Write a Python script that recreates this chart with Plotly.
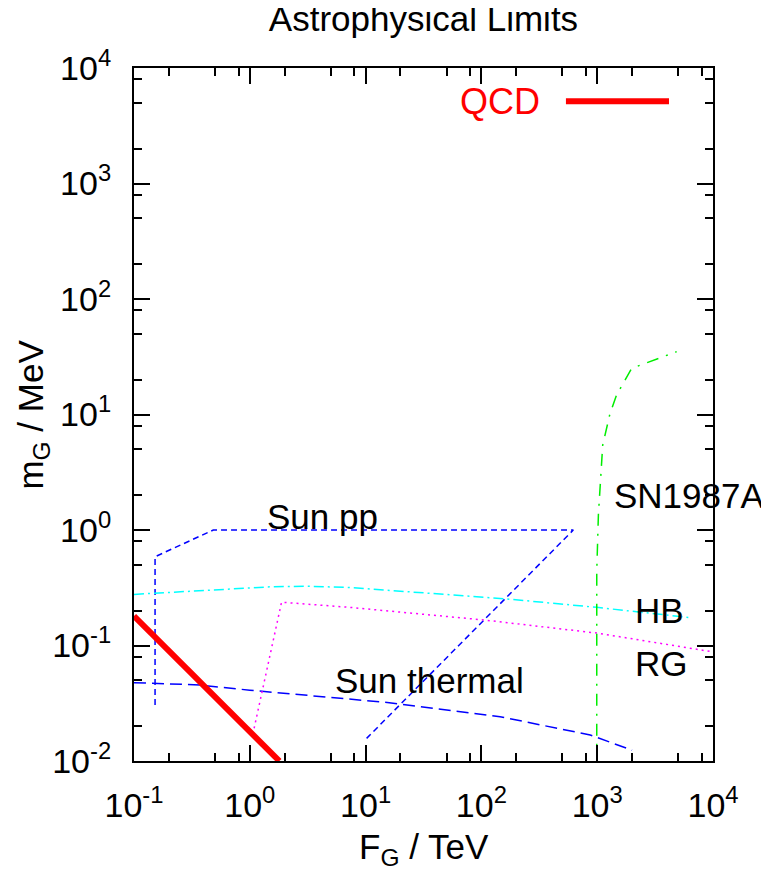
import plotly.graph_objects as go

# ---------------- data ----------------
qcd_F = [0.1, 1.8]
qcd_m = [0.18, 0.01]

sunpp_F = [0.152, 0.152, 0.484, 622, 10.2]
sunpp_m = [0.0306, 0.587, 1.0, 1.0, 0.0157]

sunth_F = [0.1, 0.37, 1.0, 16, 145, 870, 2000]
sunth_m = [0.0477, 0.0455, 0.041, 0.032, 0.0242, 0.0168, 0.0124]

hb_F = [0.1, 1.58, 3.0, 7.3, 165, 990, 6120]
hb_m = [0.277, 0.323, 0.326, 0.318, 0.253, 0.214, 0.175]

rg_F = [1.09, 1.88, 7.3, 16.3, 107, 1000, 10000]
rg_m = [0.0192, 0.237, 0.214, 0.199, 0.166, 0.128, 0.088]

sn_F = [991, 991, 1024, 1080, 1116, 1290, 1472, 1986, 4855]
sn_m = [0.005, 0.435, 1.35, 2.89, 5.44, 10.2, 14.8, 25.1, 35.0]

x_major = [0.1, 1, 10, 100, 1000, 10000]
x_major_text = ["10<sup>-1</sup>", "10<sup>0</sup>", "10<sup>1</sup>",
                "10<sup>2</sup>", "10<sup>3</sup>", "10<sup>4</sup>"]
y_major = [0.01, 0.1, 1, 10, 100, 1000, 10000]
y_major_text = ["10<sup>-2</sup>", "10<sup>-1</sup>", "10<sup>0</sup>", "10<sup>1</sup>",
                "10<sup>2</sup>", "10<sup>3</sup>", "10<sup>4</sup>"]
minor_mult = [2, 5, 8]

FONT = "Liberation Sans, Arial, sans-serif"

x_minor = [m * d for d in x_major[:-1] for m in minor_mult]
y_minor = [m * d for d in y_major[:-1] for m in minor_mult]

fig = go.Figure()

def add_line(x, y, color, dash, width=1.5, name=""):
    fig.add_trace(go.Scatter(x=x, y=y, mode="lines", name=name,
                             line=dict(color=color, dash=dash, width=width),
                             showlegend=False, hoverinfo="skip"))

add_line(sunpp_F, sunpp_m, "#0000ff", "6px,4px", name="Sun pp")
add_line(sunth_F, sunth_m, "#0000ff", "12px,6px", name="Sun thermal")
add_line(hb_F, hb_m, "#00ffff", "10px,4px,2px,4px", name="HB")
add_line(rg_F, rg_m, "#ff00ff", "2px,4px", name="RG")
add_line(sn_F, sn_m, "#00ee00", "12px,8px,2px,8px", name="SN1987A")
add_line(qcd_F, qcd_m, "#ff0000", "solid", width=6, name="QCD")

axis_common = dict(
    type="log", showgrid=False, zeroline=False,
    showline=True, linecolor="black", linewidth=2, mirror="allticks",
    ticks="inside", ticklen=16, tickwidth=2, tickcolor="black",
    tickfont=dict(family=FONT, size=34, color="black"),
    tickmode="array",
)

fig.update_xaxes(
    **axis_common, range=[-1, 4],
    tickvals=x_major, ticktext=x_major_text, ticklabelstandoff=13,
    minor=dict(tickmode="array", tickvals=x_minor, ticks="inside",
               ticklen=8, tickwidth=2, tickcolor="black"),
)
fig.update_yaxes(
    **axis_common, range=[-2, 4],
    tickvals=y_major, ticktext=y_major_text, ticklabelstandoff=14,
    minor=dict(tickmode="array", tickvals=y_minor, ticks="inside",
               ticklen=8, tickwidth=2, tickcolor="black"),
)

ann_font = dict(family=FONT, size=35, color="black")
labels = [
    ("Sun pp", 0.131, 0.113),
    ("Sun thermal", 0.716, -1.303),
    ("SN1987A", 3.125, 0.303),
    ("HB", 3.312, -0.697),
    ("RG", 3.312, -1.158),
]
for txt, lx, ly in labels:
    fig.add_annotation(x=lx, y=ly, xref="x", yref="y", text=txt, showarrow=False,
                       xanchor="left", yanchor="middle", font=ann_font)

# legend (gnuplot style: text then sample line)
fig.add_annotation(x=0.7047, y=0.952, xref="paper", yref="paper", text="QCD",
                   showarrow=False, xanchor="right", yanchor="middle",
                   font=dict(family=FONT, size=36, color="#ff0000"))
fig.add_shape(type="line", xref="paper", yref="paper", x0=0.746, x1=0.924,
              y0=0.952, y1=0.952, line=dict(color="#ff0000", width=6))

# axis titles
fig.add_annotation(x=0.5, y=-0.127, xref="paper", yref="paper",
                   text="F<sub>G</sub> / TeV", showarrow=False,
                   xanchor="center", yanchor="middle",
                   font=dict(family=FONT, size=35, color="black"))
fig.add_annotation(x=-0.176, y=0.5, xref="paper", yref="paper",
                   text="m<sub>G</sub> / MeV", showarrow=False, textangle=-90,
                   xanchor="center", yanchor="middle",
                   font=dict(family=FONT, size=35, color="black"))

fig.update_layout(
    width=761, height=869,
    margin=dict(l=126, r=56, t=60, b=116),
    paper_bgcolor="white", plot_bgcolor="white",
    title=dict(text="Astrophysical Limits", x=0.5, xref="paper", xanchor="center",
               y=1 - 11 / 869, yanchor="middle", yref="container",
               font=dict(family=FONT, size=35, color="black")),
    showlegend=False,
)

fig.write_html("out.html")
